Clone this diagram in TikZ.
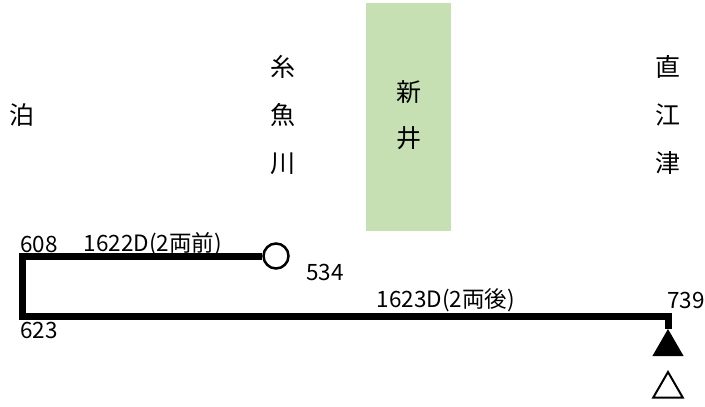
\documentclass[tikz,border=0pt]{standalone}
\usepackage{fontspec}
\setmainfont{Noto Sans CJK JP}
\usepackage{xcolor}
\usetikzlibrary{shapes.geometric}
\definecolor{arainagreen}{HTML}{C6E0B4}

\begin{document}
\begin{tikzpicture}[x=1pt,y=-1pt,
	station/.style={font=\fontsize{25}{48}\selectfont, align=center, inner sep=0pt},
	lbl/.style={font=\fontsize{22.5}{26}\selectfont, inner sep=0pt},
	track/.style={line width=7pt, line join=miter},
	tri/.style={regular polygon, regular polygon sides=3, minimum size=36pt, inner sep=0pt}]
		\useasboundingbox (0,0) rectangle (705,407);

		% Arai highlight
		\fill[arainagreen] (366,3) rectangle (451,231);

		% Stations
		\node[station] (tomari) at (22,115) {泊};
		\node[station] (itoigawa) at (283,115) {糸\\魚\\川};
		\node[station, font=\fontsize{25}{46}\selectfont] (arai) at (409,115) {新\\井};
		\node[station] (naoetsu) at (668,115) {直\\江\\津};

		% Train ends
		\node[circle, draw, line width=2.5pt, minimum size=25pt, inner sep=0pt] (start) at (276,256) {};
		\node[tri, fill=black] (front) at (668,347) {};
		\node[tri, draw, line width=2pt, minimum size=34pt] (back) at (668,389) {};

		% Track
		\coordinate (turn) at (22.5,316);
		\draw[track] (start.west) -| (turn) -| (front.corner 1);

		% Times and trains
		\node[lbl] (t608) at (39,244) {608};
		\node[lbl] (t1622) at (153,244) {1622D(2両前)};
		\node[lbl] (t534) at (325,272) {534};
		\node[lbl] (t1623) at (446,300) {1623D(2両後)};
		\node[lbl] (t739) at (686,300) {739};
		\node[lbl] (t623) at (39,330) {623};
	\end{tikzpicture}
\end{document}
